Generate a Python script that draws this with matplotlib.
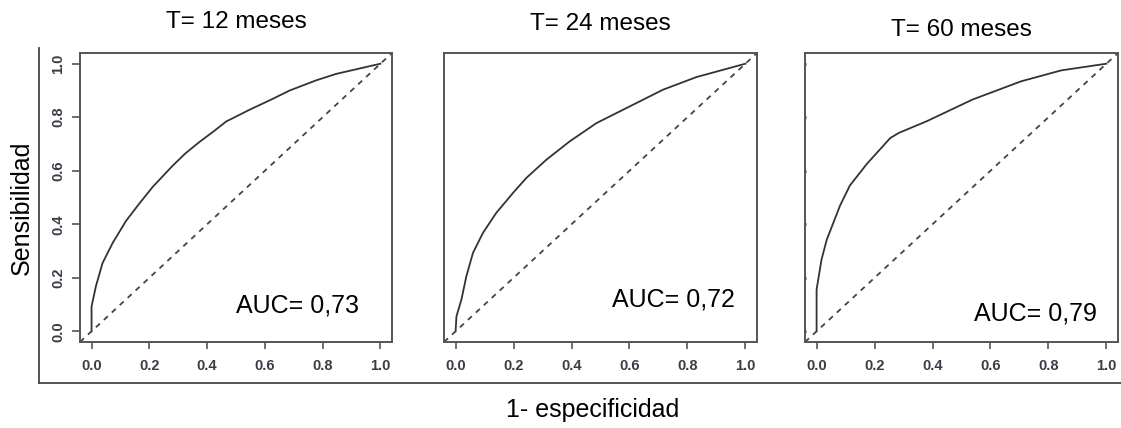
import numpy as np
import matplotlib
matplotlib.use("Agg")
import matplotlib.pyplot as plt
from matplotlib.lines import Line2D

# ROC curves (1 - specificity, sensitivity)
fpr_12 = [0.0, 0.0, 0.015, 0.038, 0.073, 0.119, 0.165, 0.212, 0.28, 0.325, 0.374,
          0.42, 0.466, 0.547, 0.622, 0.686, 0.778, 0.847, 1.0]
tpr_12 = [0.0, 0.093, 0.168, 0.255, 0.33, 0.412, 0.477, 0.54, 0.618, 0.665, 0.708,
          0.745, 0.784, 0.828, 0.866, 0.9, 0.938, 0.962, 1.0]

fpr_24 = [0.0, 0.003, 0.02, 0.037, 0.06, 0.094, 0.14, 0.198, 0.244, 0.313, 0.394,
          0.486, 0.6, 0.716, 0.831, 1.0]
tpr_24 = [0.0, 0.056, 0.118, 0.205, 0.293, 0.367, 0.442, 0.517, 0.573, 0.641, 0.71,
          0.778, 0.84, 0.903, 0.95, 1.0]

fpr_60 = [0.0, 0.0, 0.017, 0.035, 0.081, 0.115, 0.173, 0.254, 0.283, 0.382, 0.538,
          0.705, 0.844, 1.0]
tpr_60 = [0.0, 0.156, 0.268, 0.342, 0.47, 0.545, 0.625, 0.722, 0.741, 0.786, 0.866,
          0.934, 0.975, 1.0]

titles = ["T= 12 meses", "T= 24 meses", "T= 60 meses"]
auc_labels = ["AUC= 0,73", "AUC= 0,72", "AUC= 0,79"]
ticks = [0.0, 0.2, 0.4, 0.6, 0.8, 1.0]

curves = [(fpr_12, tpr_12), (fpr_24, tpr_24), (fpr_60, tpr_60)]

plt.rcParams['font.family'] = ['Liberation Sans', 'DejaVu Sans']

W, H = 1121, 428
fig = plt.figure(figsize=(W / 100, H / 100), dpi=100)

# panel boxes in pixels: left, top, right, bottom
boxes = [(80, 53, 392, 342), (444, 53, 757, 342), (805, 53, 1118, 342)]
title_y = [22, 24, 30]
auc_pos = [(298, 305), (673, 300), (1035, 314)]

tick_color = "#3c3c48"
for i, ((l, t, r, b), (fx, ty)) in enumerate(zip(boxes, curves)):
    ax = fig.add_axes([l / W, 1 - b / H, (r - l) / W, (b - t) / H])
    ax.plot(fx, ty, color="#333333", lw=1.3)
    ax.axline((0, 0), (1, 1), color="#444444", lw=1.3, ls=(0, (3, 3)))
    ax.set_xlim(-0.04, 1.04)
    ax.set_ylim(-0.04, 1.04)
    for s in ax.spines.values():
        s.set_color("#555555")
        s.set_linewidth(1.4)
    ax.set_xticks(ticks)
    ax.set_xticklabels([f"{v:.1f}" for v in ticks], fontsize=10.5,
                       color=tick_color, fontweight="bold")
    ax.tick_params(axis="x", length=5, width=1.2, color="#555555", pad=7)
    ax.set_yticks(ticks)
    if i == 0:
        ax.set_yticklabels([f"{v:.1f}" for v in ticks], fontsize=10.5,
                           color=tick_color, fontweight="bold", rotation=90,
                           va="center")
        ax.tick_params(axis="y", length=5.5, width=1.2, color="#555555", pad=5)
    elif i == 1:
        ax.set_yticklabels([])
        ax.tick_params(axis="y", length=0)
    else:
        ax.set_yticklabels([])
        ax.tick_params(axis="y", length=1.5, width=2, color="#444444",
                       direction="inout")
    fig.text((l + r) / 2 / W, 1 - title_y[i] / H, titles[i], ha="center",
             va="center", fontsize=17.5)
    fig.text(auc_pos[i][0] / W, 1 - auc_pos[i][1] / H, auc_labels[i],
             ha="center", va="center", fontsize=18)

# outer L-shaped frame
fig.add_artist(Line2D([39 / W, 39 / W], [1 - 48 / H, 1 - 383 / H],
                      color="#444444", lw=1.3))
fig.add_artist(Line2D([39 / W, 1.0], [1 - 383 / H, 1 - 383 / H],
                      color="#444444", lw=1.3))

fig.text(22 / W, 1 - 208 / H, "Sensibilidad", rotation=90, ha="center",
         va="center", fontsize=18)
fig.text(593 / W, 1 - 410 / H, "1- especificidad", ha="center", va="center",
         fontsize=18)

fig.savefig("out.png", dpi=100)
